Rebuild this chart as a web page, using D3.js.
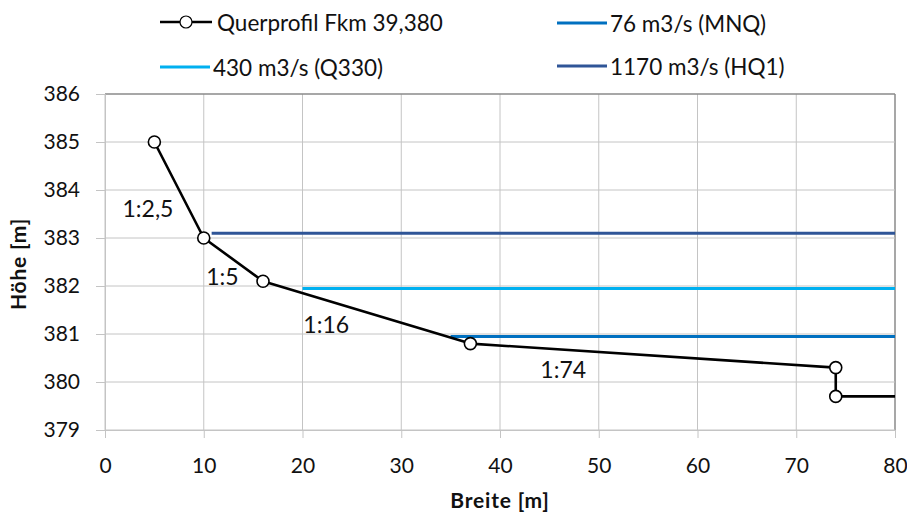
<!DOCTYPE html>
<html>
<head>
<meta charset="utf-8">
<script src="https://cdn.jsdelivr.net/npm/d3@7"></script>
<style>
  html, body { margin: 0; padding: 0; background: #fff; }
  svg { display: block; font-family: Lato, "Open Sans", sans-serif; }
</style>
</head>
<body>
<svg id="chart" width="907" height="515"></svg>
<script>
// Cross-section profile (Breite in m, Höhe in m)
const profileName = "Querprofil Fkm 39,380";
const profileX = [5, 10, 16, 37, 74, 74, 82];
const profileY = [385, 383, 382.1, 380.8, 380.3, 379.7, 379.7];

// Water levels for the three discharges
const levelNames = ["76 m3/s (MNQ)", "430 m3/s (Q330)", "1170 m3/s (HQ1)"];
const levelHeights = [380.95, 381.95, 383.1];
const levelFrom = [35, 20, 10.8];
const levelTo = [80, 80, 80];

// Bank slope annotations: text and anchor (Breite, Höhe)
const slopeTexts = ["1:2,5", "1:5", "1:16", "1:74"];
const slopeAtX = [4.35, 11.9, 22.4, 46.4];
const slopeAtY = [383.63, 382.21, 381.21, 380.27];

const xTicks = [0, 10, 20, 30, 40, 50, 60, 70, 80];
const yTicks = [379, 380, 381, 382, 383, 384, 385, 386];

const levelColors = ["#0070C0", "#00B0F0", "#2F5597"];

const svg = d3.select("#chart");
const plot = { left: 105, right: 895, top: 94, bottom: 430 };

const x = d3.scaleLinear().domain([0, 80]).range([plot.left, plot.right]);
const y = d3.scaleLinear().domain([379, 386]).range([plot.bottom, plot.top]);

svg.append("defs").append("clipPath").attr("id", "plotClip")
  .append("rect")
  .attr("x", plot.left).attr("y", plot.top - 10)
  .attr("width", plot.right - plot.left).attr("height", plot.bottom - plot.top + 20);

// Gridlines
const grid = svg.append("g");
grid.selectAll("line.v").data(xTicks).join("line")
  .attr("x1", d => x(d)).attr("x2", d => x(d))
  .attr("y1", plot.top).attr("y2", plot.bottom)
  .attr("stroke", d => d === 80 ? "#8a8a8a" : "#c4c4c4")
  .attr("stroke-width", d => d === 80 ? 1.5 : 1);
grid.selectAll("line.h").data(yTicks).join("line")
  .attr("x1", plot.left).attr("x2", plot.right)
  .attr("y1", d => y(d)).attr("y2", d => y(d))
  .attr("stroke", d => d === 386 ? "#8a8a8a" : "#c4c4c4")
  .attr("stroke-width", d => d === 386 ? 1.5 : 1);

// Axes
const xAxis = svg.append("g")
  .attr("transform", `translate(0,${plot.bottom})`)
  .call(d3.axisBottom(x).tickValues(xTicks).tickSize(8).tickPadding(20).tickFormat(d3.format("d")));
const yAxis = svg.append("g")
  .attr("transform", `translate(${plot.left},0)`)
  .call(d3.axisLeft(y).tickValues(yTicks).tickSize(9).tickPadding(16).tickFormat(d3.format("d")));
[xAxis, yAxis].forEach(a => {
  a.select(".domain").attr("stroke", "#c4c4c4");
  a.selectAll(".tick line").attr("stroke", "#c4c4c4");
  a.selectAll(".tick text")
    .attr("font-family", "Lato, 'Open Sans', sans-serif")
    .attr("font-size", 21).attr("fill", "#111");
});

// Axis titles
svg.append("text")
  .attr("x", (plot.left + plot.right) / 2).attr("y", 508)
  .attr("text-anchor", "middle").attr("font-weight", "bold")
  .attr("font-size", 21).attr("letter-spacing", 0.8).attr("fill", "#111")
  .text("Breite [m]");
svg.append("text")
  .attr("transform", `translate(26,${(plot.top + plot.bottom) / 2 + 2}) rotate(-90)`)
  .attr("text-anchor", "middle").attr("font-weight", "bold")
  .attr("font-size", 21).attr("letter-spacing", 0.8).attr("fill", "#111")
  .text("Höhe [m]");

// Water level lines
svg.append("g").selectAll("line").data(levelNames).join("line")
  .attr("x1", (d, i) => x(levelFrom[i])).attr("x2", (d, i) => x(levelTo[i]))
  .attr("y1", (d, i) => y(levelHeights[i])).attr("y2", (d, i) => y(levelHeights[i]))
  .attr("stroke", (d, i) => levelColors[i]).attr("stroke-width", 3);

// Profile line with markers
const profile = profileX.map((v, i) => [v, profileY[i]]);
const pg = svg.append("g").attr("clip-path", "url(#plotClip)");
pg.append("path")
  .datum(profile)
  .attr("d", d3.line().x(d => x(d[0])).y(d => y(d[1])))
  .attr("fill", "none").attr("stroke", "#000").attr("stroke-width", 2.6)
  .attr("stroke-linejoin", "round");
pg.selectAll("circle").data(profile).join("circle")
  .attr("cx", d => x(d[0])).attr("cy", d => y(d[1])).attr("r", 6)
  .attr("fill", "#fff").attr("stroke", "#000").attr("stroke-width", 1.6);

// Slope annotations
svg.append("g").selectAll("text").data(slopeTexts).join("text")
  .attr("x", (d, i) => x(slopeAtX[i])).attr("y", (d, i) => y(slopeAtY[i]))
  .attr("text-anchor", "middle").attr("dominant-baseline", "central")
  .attr("font-size", 23).attr("fill", "#111")
  .text(d => d);

// Legend
const legendItems = [
  { name: profileName, color: "#000", marker: true },
  { name: levelNames[0], color: levelColors[0] },
  { name: levelNames[1], color: levelColors[1] },
  { name: levelNames[2], color: levelColors[2] }
];
const legendPos = [[160, 22], [557, 23], [160, 67], [557, 66]];
const lg = svg.append("g").selectAll("g").data(legendItems).join("g")
  .attr("transform", (d, i) => `translate(${legendPos[i][0]},${legendPos[i][1]})`);
lg.append("line")
  .attr("x1", 0).attr("x2", d => d.marker ? 52 : 50)
  .attr("stroke", d => d.color).attr("stroke-width", d => d.marker ? 2.6 : 3);
lg.filter(d => d.marker).append("circle")
  .attr("cx", 26).attr("r", 6)
  .attr("fill", "#fff").attr("stroke", "#000").attr("stroke-width", 1.2);
lg.append("text")
  .attr("x", d => d.marker ? 57 : 53).attr("dominant-baseline", "central")
  .attr("font-size", 22.5).attr("fill", "#111")
  .text(d => d.name);
</script>
</body>
</html>
